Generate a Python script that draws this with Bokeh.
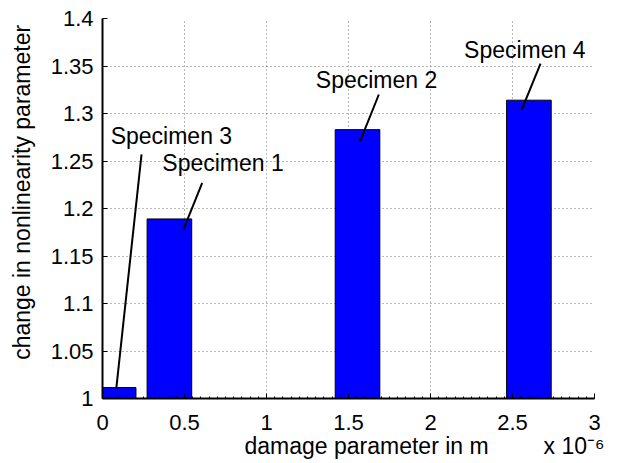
from bokeh.plotting import figure
from bokeh.models import FixedTicker, Range1d, ColumnDataSource, LinearAxis
from bokeh.core.properties import value
from bokeh.embed import file_html
from bokeh.resources import INLINE

# ---- data ----
specimens = ["Specimen 3", "Specimen 1", "Specimen 2", "Specimen 4"]
damage = [0.068, 0.408, 1.555, 2.600]          # x 10^-6 m
nonlin_change = [1.0115, 1.189, 1.283, 1.314]
bar_width = 0.272

x_ticks = [0, 0.5, 1, 1.5, 2, 2.5, 3]
x_tick_labels = ["0", "0.5", "1", "1.5", "2", "2.5", "3"]
y_ticks = [1.0, 1.05, 1.1, 1.15, 1.2, 1.25, 1.3, 1.35, 1.4]
y_tick_labels = ["1", "1.05", "1.1", "1.15", "1.2", "1.25", "1.3", "1.35", "1.4"]

x_title = "damage parameter in m"
x_unit = "x 10\u207b\u2076"
y_title = "change in nonlinearity parameter"

# annotation layout (text anchor and arrow line ends)
label_x = [0.42, 0.735, 1.671, 2.575]
label_y = [1.276, 1.248, 1.335, 1.367]
line_x0 = [0.238, 0.608, 1.685, 2.671]
line_y0 = [1.257, 1.227, 1.320, 1.3526]
line_x1 = [0.084, 0.494, 1.571, 2.555]
line_y1 = [1.0105, 1.178, 1.271, 1.3035]
# title anchors (axis coordinates)
x_title_pos = 1.61
x_unit_pos = 2.875
y_title_pos = 1.217

FONT = "Liberation Sans"

p = figure(width=622, height=463, output_backend="svg", toolbar_location=None,
           x_range=Range1d(0, 3), y_range=Range1d(1, 1.4),
           min_border_left=102, min_border_right=28, min_border_top=18,
           min_border_bottom=65)
p.outline_line_color = None
p.background_fill_color = "white"
p.border_fill_color = "white"

bars = ColumnDataSource(dict(x=damage, top=nonlin_change, name=specimens))
p.vbar(x="x", width=bar_width, top="top", bottom=0, source=bars,
       fill_color="#0000ff", line_color="black", line_width=1)

ann = ColumnDataSource(dict(lx=label_x, ly=label_y, t=specimens,
                            x0=line_x0, y0=line_y0, x1=line_x1, y1=line_y1))
p.segment(x0="x0", y0="y0", x1="x1", y1="y1", source=ann,
          line_color="black", line_width=2)
p.text(x="lx", y="ly", text="t", source=ann, text_font=value(FONT),
       text_font_size="23px", text_align="center", text_baseline="middle",
       text_color="black")

# main axes
xt = FixedTicker(ticks=x_ticks, minor_ticks=[round(i * 0.05, 2) for i in range(61)])
yt = FixedTicker(ticks=y_ticks, minor_ticks=[])
p.xaxis.ticker = xt
p.yaxis.ticker = yt
p.xaxis.major_label_overrides = dict(zip(x_ticks, x_tick_labels))
p.yaxis.major_label_overrides = dict(zip(y_ticks, y_tick_labels))
for ax in (p.xaxis, p.yaxis):
    ax.axis_line_width = 2
    ax.axis_line_color = "black"
    ax.major_tick_in = 5
    ax.major_tick_out = 0
    ax.major_tick_line_color = "black"
    ax.major_label_text_font = FONT
    ax.major_label_text_font_size = "22px"
    ax.major_label_text_color = "black"
p.xaxis.major_label_standoff = 16
p.yaxis.major_label_standoff = 9
p.xaxis.minor_tick_in = 2
p.xaxis.minor_tick_out = 0
p.xaxis.minor_tick_line_color = "black"
p.yaxis.minor_tick_line_color = None


def title_axis(ticks, labels, standoff, orientation="horizontal"):
    ax = LinearAxis(ticker=FixedTicker(ticks=ticks, minor_ticks=[]))
    ax.major_label_overrides = dict(zip(ticks, labels))
    ax.axis_line_color = None
    ax.major_tick_line_color = None
    ax.minor_tick_line_color = None
    ax.major_tick_in = 0
    ax.major_tick_out = 0
    ax.minor_tick_in = 0
    ax.minor_tick_out = 0
    ax.major_label_text_font = FONT
    ax.major_label_text_font_size = "23px"
    ax.major_label_text_color = "black"
    ax.major_label_standoff = standoff
    ax.major_label_orientation = orientation
    return ax


# x title + unit as a second axis stacked below the main x axis
xtitle_ax = title_axis([x_title_pos, x_unit_pos], [x_title, x_unit], 0)
p.add_layout(xtitle_ax, "below")
# y title as a second axis stacked left of the main y axis
ytitle_ax = title_axis([y_title_pos], [y_title], 12, orientation="vertical")
p.add_layout(ytitle_ax, "left")

# grid
p.xgrid.ticker = FixedTicker(ticks=x_ticks)
p.ygrid.ticker = FixedTicker(ticks=y_ticks)
for g in (p.xgrid, p.ygrid):
    g.grid_line_color = "#707070"
    g.grid_line_dash = "1 3"
    g.grid_line_width = 1

open("out.html", "w").write(file_html(p, INLINE))
